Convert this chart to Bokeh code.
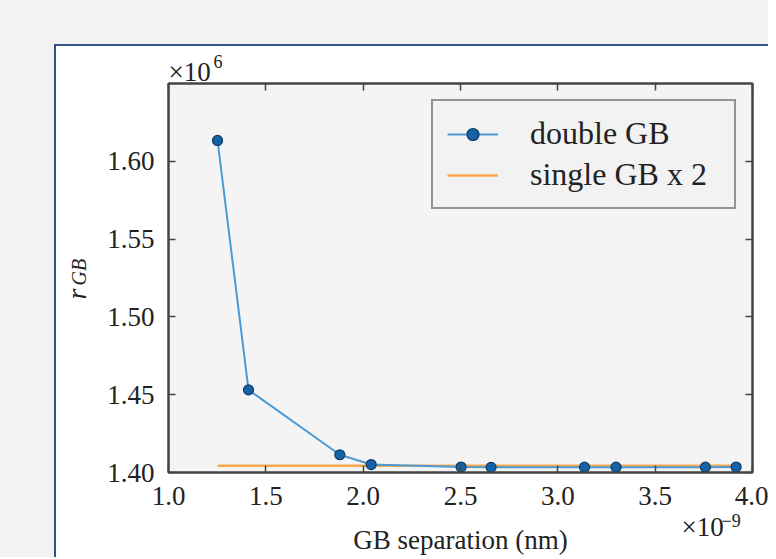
import math
from bokeh.plotting import figure
from bokeh.models import (Range1d, SingleIntervalTicker, NumeralTickFormatter, LinearAxis,
                          Label, Legend, LegendItem, CustomJSTickFormatter)
from bokeh.embed import file_html
from bokeh.resources import INLINE

# data (x in units of 1e-9 m, y in units of 1e6)
sep = [1.252, 1.411, 1.880, 2.041, 2.503, 2.657, 3.137, 3.299, 3.758, 3.916]
r_double = [1.6134, 1.4531, 1.4114, 1.4051, 1.4035, 1.4033, 1.4034, 1.4034, 1.4034, 1.4035]
r_single2 = [1.4044] * len(sep)

x_ticks_interval = 0.5
y_ticks_interval = 0.05

FONT = "Liberation Serif"
TXT = "#222222"
AX = "#444444"

p = figure(frame_width=584, frame_height=389,
           x_range=Range1d(1.0, 4.0), y_range=Range1d(1.40, 1.65),
           output_backend="svg", toolbar_location=None,
           min_border_left=168, min_border_right=16, min_border_top=83, min_border_bottom=79)
p.border_fill_color = None
p.background_fill_color = "#f4f4f4"
p.outline_line_color = AX
p.outline_line_width = 2
p.grid.visible = False
p.styles = {
    "background":
        "linear-gradient(#34508a, #34508a) 54px 44px / 2px 100% no-repeat, "
        "linear-gradient(#34508a, #34508a) 54px 44px / 100% 2px no-repeat, "
        "linear-gradient(#ffffff, #ffffff) 56px 46px / 100% 100% no-repeat, "
        "#f2f2f2"
}

def style_axis(ax, show_labels=True):
    ax.axis_line_color = AX
    ax.axis_line_width = 2
    ax.major_tick_line_color = AX
    ax.major_tick_line_width = 1.5
    ax.major_tick_in = 7
    ax.major_tick_out = 0
    ax.minor_tick_line_color = None
    ax.major_label_text_font = FONT
    ax.major_label_text_color = TXT
    ax.major_label_text_font_size = "27px"
    if show_labels:
        ax.major_label_standoff = 10
    else:
        ax.formatter = CustomJSTickFormatter(code="return ''")
        ax.major_label_standoff = 0

p.xaxis.ticker = SingleIntervalTicker(interval=x_ticks_interval)
p.yaxis.ticker = SingleIntervalTicker(interval=y_ticks_interval)
p.xaxis.formatter = NumeralTickFormatter(format="0.0")
p.yaxis.formatter = NumeralTickFormatter(format="0.00")
style_axis(p.xaxis[0])
style_axis(p.yaxis[0])
p.xaxis.axis_label = "GB separation (nm)"
p.xaxis.axis_label_text_font = FONT
p.xaxis.axis_label_text_font_style = "normal"
p.xaxis.axis_label_text_font_size = "27px"
p.xaxis.axis_label_text_color = TXT
p.xaxis.axis_label_standoff = 17

top_ax = LinearAxis(ticker=SingleIntervalTicker(interval=x_ticks_interval))
right_ax = LinearAxis(ticker=SingleIntervalTicker(interval=y_ticks_interval))
style_axis(top_ax, False)
style_axis(right_ax, False)
p.add_layout(top_ax, "above")
p.add_layout(right_ax, "right")

l_single = p.line(sep, r_single2, line_color="#f7a84f", line_width=2.5)
l_double = p.line(sep, r_double, line_color="#4a9ad6", line_width=2)
s_double = p.scatter(sep, r_double, size=10, fill_color="#1563a6", line_color="#0d3b66", line_width=1.2)

legend = Legend(items=[LegendItem(label="double GB", renderers=[l_double, s_double]),
                       LegendItem(label="single GB x 2", renderers=[l_single])],
                location="top_right")
legend.margin = 16
legend.padding = 14
legend.spacing = 4
legend.glyph_width = 51
legend.glyph_height = 30
legend.label_height = 30
legend.label_width = 190
legend.label_standoff = 32
legend.label_text_font = FONT
legend.label_text_font_size = "32px"
legend.label_text_color = TXT
legend.border_line_color = "#333333"
legend.border_line_width = 2
legend.background_fill_color = "#f2f2f2"
legend.background_fill_alpha = 1
p.add_layout(legend, "center")

def lab(side, x, y, text, size, style="normal", angle=0.0):
    p.add_layout(Label(x=x, y=y, x_units="screen", y_units="screen", text=text,
                       text_font=FONT, text_font_size=size, text_font_style=style,
                       text_color=TXT, text_align="left", text_baseline="alphabetic",
                       angle=angle), side)

# y-axis label r_GB
lab("left", 3, 173, "r", "28px", "italic", math.pi / 2)
lab("left", 27, 187, "GB", "20px", "italic", math.pi / 2)
# offset text of the x axis (x 10^-9)
lab("left", 672, -54, "\u00d710", "27px")
# offset text of the y axis (x 10^6)
lab("above", 0, 8, "\u00d710", "27px")
lab("above", 45, -12, "6", "18px")
lab("above", 553, -484, "\u22129", "18px")

open("out.html", "w").write(file_html(p, INLINE))
